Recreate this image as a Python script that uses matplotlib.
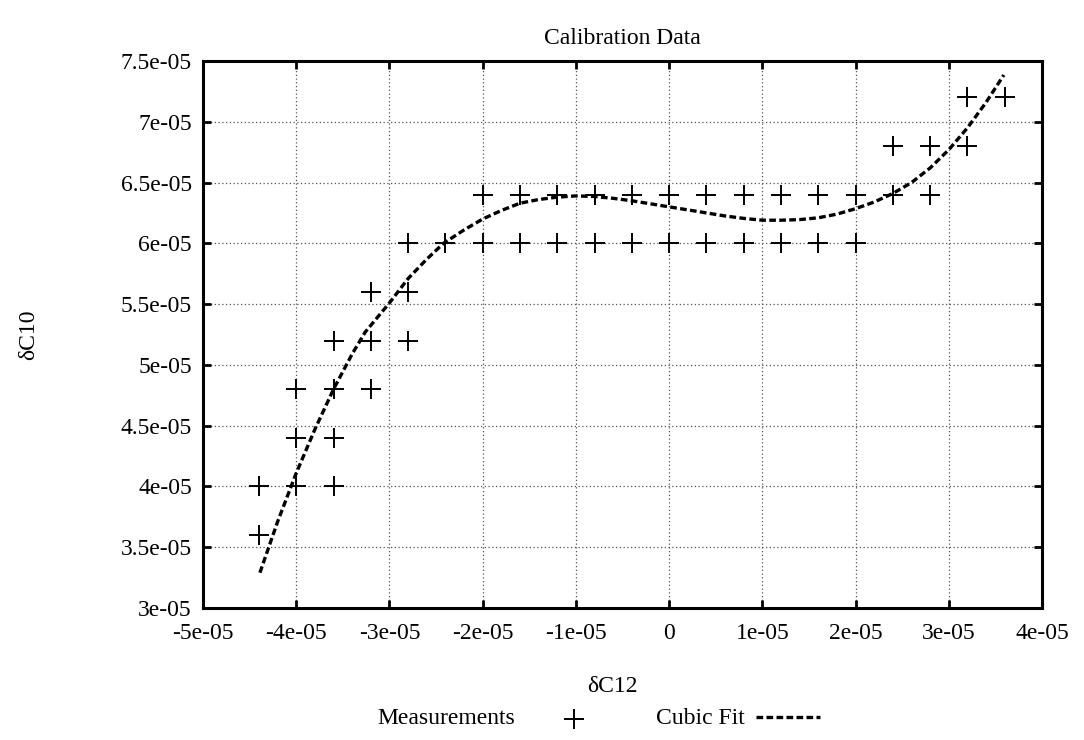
import numpy as np
import matplotlib

matplotlib.use("Agg")
import matplotlib.pyplot as plt
from matplotlib.lines import Line2D
from matplotlib.ticker import MultipleLocator, FuncFormatter

plt.rcParams["font.family"] = ["Liberation Serif", "DejaVu Serif"]

# measurements (units of 1e-5)
meas_x = [-4.4, -4.4,
          -4.0, -4.0, -4.0,
          -3.6, -3.6, -3.6, -3.6,
          -3.2, -3.2, -3.2,
          -2.8, -2.8, -2.8,
          -2.4,
          -2.0, -2.0, -1.6, -1.6, -1.2, -1.2, -0.8, -0.8, -0.4, -0.4,
          0.0, 0.0, 0.4, 0.4, 0.8, 0.8, 1.2, 1.2, 1.6, 1.6, 2.0, 2.0,
          2.4, 2.4, 2.8, 2.8, 3.2, 3.2, 3.6]
meas_y = [4.0, 3.6,
          4.8, 4.4, 4.0,
          5.2, 4.8, 4.4, 4.0,
          5.6, 5.2, 4.8,
          6.0, 5.6, 5.2,
          6.0,
          6.4, 6.0, 6.4, 6.0, 6.4, 6.0, 6.4, 6.0, 6.4, 6.0,
          6.4, 6.0, 6.4, 6.0, 6.4, 6.0, 6.4, 6.0, 6.4, 6.0, 6.4, 6.0,
          6.8, 6.4, 6.8, 6.4, 7.2, 6.8, 7.2]

# cubic fit curve (units of 1e-5)
fit_x = [-4.39, -4.2, -4.0, -3.8, -3.6, -3.4, -3.26, -3.0, -2.8, -2.6, -2.42,
         -2.2, -2.0, -1.8, -1.6, -1.4, -1.2, -1.0, -0.8, -0.6, -0.4, -0.2,
         0.0, 0.2, 0.4, 0.6, 0.8, 1.0, 1.2, 1.4, 1.6, 1.8, 2.0, 2.2, 2.4,
         2.6, 2.8, 3.0, 3.2, 3.4, 3.59]
fit_y = [3.29, 3.71, 4.11, 4.47, 4.80, 5.09, 5.27, 5.51, 5.71, 5.87, 6.00,
         6.11, 6.20, 6.27, 6.33, 6.36, 6.38, 6.39, 6.385, 6.37, 6.35, 6.325,
         6.30, 6.275, 6.25, 6.225, 6.205, 6.19, 6.19, 6.195, 6.21, 6.24, 6.285,
         6.34, 6.41, 6.50, 6.62, 6.77, 6.95, 7.16, 7.385]

scale = 1e-5
fs = 17

fig = plt.figure(figsize=(10.84, 7.40), dpi=100)
ax = fig.add_axes([0.1873, 0.1784, 0.9613 - 0.1873, 0.9176 - 0.1784])

ax.plot(np.array(fit_x) * scale, np.array(fit_y) * scale, color="black",
        lw=2.4, dashes=(2.0, 1.0), zorder=3)
ax.plot(np.array(meas_x) * scale, np.array(meas_y) * scale, linestyle="none",
        marker="+", markersize=15, markeredgewidth=1.4, color="black", zorder=4)

ax.set_xlim(-5e-5, 4e-5)
ax.set_ylim(3e-5, 7.5e-5)
ax.xaxis.set_major_locator(MultipleLocator(1e-5))
ax.yaxis.set_major_locator(MultipleLocator(0.5e-5))


def fmt(v, pos):
    if abs(v) < 1e-12:
        return "0"
    return f"{v:g}"


ax.xaxis.set_major_formatter(FuncFormatter(fmt))
ax.yaxis.set_major_formatter(FuncFormatter(fmt))

ax.grid(True, color="#555555", linestyle=(0, (1, 2)), linewidth=0.9)
ax.tick_params(direction="in", length=6, width=2, top=True, right=True,
               labelsize=fs)
ax.tick_params(axis="x", pad=11)
ax.tick_params(axis="y", pad=8)
for s in ax.spines.values():
    s.set_linewidth(2.2)

fig.text(0.5746, 1 - 38 / 740, "Calibration Data", ha="center", va="center", fontsize=fs)
fig.text(0.5646, 1 - 686 / 740, "δC12", ha="center", va="center", fontsize=fs)
fig.text(0.026, 0.547, "δC10", ha="center", va="center", rotation=90, fontsize=fs)

# legend along the bottom
leg_y = 1 - 719 / 740
fig.text(515 / 1084, leg_y, "Measurements", ha="right", va="center", fontsize=fs)
fig.add_artist(Line2D([574 / 1084], [leg_y], transform=fig.transFigure,
                      marker="+", markersize=15, markeredgewidth=1.4,
                      color="black", linestyle="none"))
fig.text(745 / 1084, leg_y, "Cubic Fit", ha="right", va="center", fontsize=fs)
fig.add_artist(Line2D([756 / 1084, 820 / 1084], [leg_y + 0.003, leg_y + 0.003],
                      transform=fig.transFigure, color="black", lw=2.4,
                      dashes=(2.0, 1.0)))

fig.savefig("out.png", dpi=100)
